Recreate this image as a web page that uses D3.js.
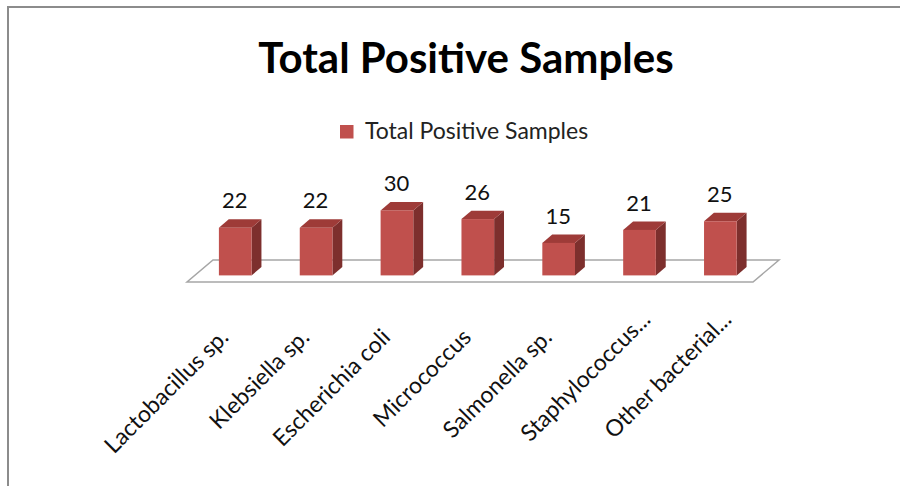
<!DOCTYPE html>
<html>
<head>
<meta charset="utf-8">
<script src="https://cdn.jsdelivr.net/npm/d3@7"></script>
<style>
  html, body { margin: 0; padding: 0; background: #fff; }
  svg { display: block; font-family: Lato, "Open Sans", sans-serif; }
</style>
</head>
<body>
<svg id="chart" width="900" height="486"></svg>
<script>
// Organisms and their positive-sample counts
const categories = [
  "Lactobacillus sp.",
  "Klebsiella sp.",
  "Escherichia coli",
  "Micrococcus",
  "Salmonella sp.",
  "Staphylococcus...",
  "Other bacterial..."
];
const values = [22, 22, 30, 26, 15, 21, 25];
const seriesName = "Total Positive Samples";
const chartTitle = "Total Positive Samples";

const svg = d3.select("#chart");

// Outer frame (left and top edges)
svg.append("path")
  .attr("d", "M8,490 L8,7 L902,7")
  .attr("fill", "none")
  .attr("stroke", "#8c8c8c")
  .attr("stroke-width", 2);

// Title
svg.append("text")
  .attr("x", 466)
  .attr("y", 73)
  .attr("text-anchor", "middle")
  .attr("font-size", 42)
  .attr("font-weight", "bold")
  .attr("fill", "#000")
  .text(chartTitle);

// Legend
const legend = svg.append("g").attr("transform", "translate(340,125)");
legend.append("rect").attr("width", 13.5).attr("height", 13.5).attr("fill", "#c0504d");
legend.append("text")
  .attr("x", 25).attr("y", 13.5)
  .attr("font-size", 23)
  .attr("fill", "#222")
  .text(seriesName);

// Scales: floor front edge spans the band range, value axis from the floor front
const x = d3.scaleBand()
  .domain(categories)
  .range([187, 753])
  .paddingInner(0.596)
  .paddingOuter(0.298);

const y = d3.scaleLinear().domain([0, 30]).range([282, 217]);

// Oblique depth vector of the floor and the depth slice the bars occupy
const depth = { dx: 26, dy: -22 };
const f0 = 0.3, f1 = 0.68;
const off = f => [depth.dx * f, depth.dy * f];

// Floor
const [x0, x1] = x.range();
const base = y(0);
svg.append("path")
  .attr("d", `M${x0},${base} L${x1},${base} L${x1 + depth.dx},${base + depth.dy} L${x0 + depth.dx},${base + depth.dy} Z`)
  .attr("fill", "#fff")
  .attr("stroke", "#a6a6a6")
  .attr("stroke-width", 1.5);

// 3D bars
const bw = x.bandwidth();
const [fx, fy] = off(f0);
const [bx, by] = off(f1);
const sx = bx - fx, sy = by - fy;

const bars = svg.append("g").selectAll("g")
  .data(categories.map((c, i) => ({ c, v: values[i] })))
  .join("g");

bars.each(function(d) {
  const g = d3.select(this);
  const left = x(d.c) + fx;
  const right = left + bw;
  const top = y(d.v) + fy;
  const bottom = y(0) + fy;
  // right side face
  g.append("path")
    .attr("d", `M${right},${bottom} L${right},${top} L${right + sx},${top + sy} L${right + sx},${bottom + sy} Z`)
    .attr("fill", "#7d2f2d");
  // top face
  g.append("path")
    .attr("d", `M${left},${top} L${right},${top} L${right + sx},${top + sy} L${left + sx},${top + sy} Z`)
    .attr("fill", "#9e3b38");
  // front face
  g.append("rect")
    .attr("x", left).attr("y", top)
    .attr("width", bw).attr("height", bottom - top)
    .attr("fill", "#c0504d");
  // value label
  g.append("text")
    .attr("x", left + bw / 2 - 0.5)
    .attr("y", top + sy - 11)
    .attr("text-anchor", "middle")
    .attr("font-size", 22)
    .attr("fill", "#111")
    .text(d.v);
});

// Category labels, rotated; truncated labels sit further along their baseline
svg.append("g").selectAll("text")
  .data(categories)
  .join("text")
  .attr("transform", d => `translate(${x(d) + fx + bw / 2 - 11},${333}) rotate(-45)`)
  .attr("x", d => d.endsWith("...") ? 25 : 0)
  .attr("text-anchor", "end")
  .attr("dy", "0.35em")
  .attr("font-size", 23)
  .attr("fill", "#111")
  .text(d => d);
</script>
</body>
</html>
